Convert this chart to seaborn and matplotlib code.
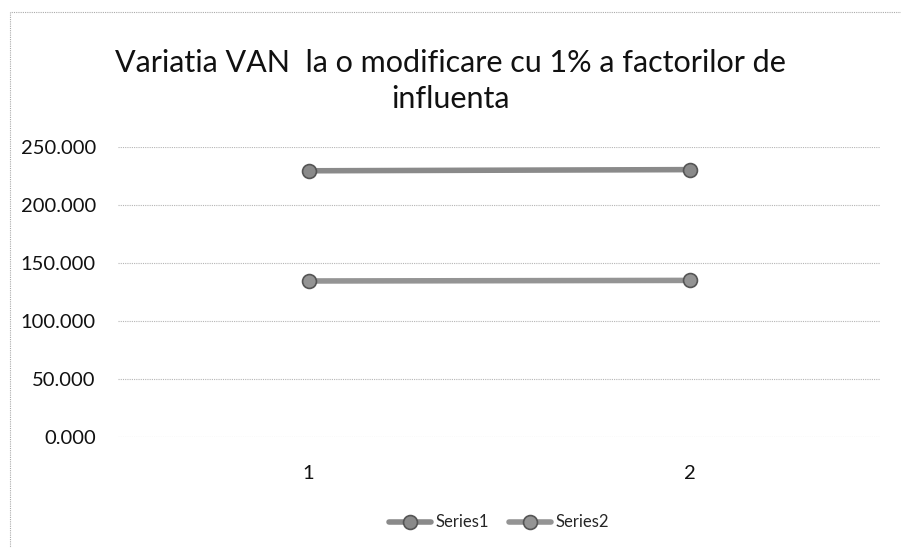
import matplotlib
matplotlib.use("Agg")
import matplotlib.pyplot as plt
from matplotlib.patches import Rectangle
from matplotlib.ticker import FuncFormatter
import seaborn as sns
import pandas as pd

# Values of VAN for each scenario
categories = [1, 2]
series1 = [229.5, 230.5]
series2 = [134.5, 135.0]
series_names = ["Series1", "Series2"]
y_ticks = [0, 50, 100, 150, 200, 250]
title = "Variatia VAN  la o modificare cu 1% a factorilor de\ninfluenta"

df = pd.DataFrame({
    "x": categories * 2,
    "value": series1 + series2,
    "series": [series_names[0]] * len(categories) + [series_names[1]] * len(categories),
})

sns.set_style("white")
plt.rcParams["font.family"] = ["Lato", "DejaVu Sans"]

fig = plt.figure(figsize=(9.01, 5.48), dpi=100)
ax = fig.add_axes([118 / 901, 1 - 437 / 548, (880 - 118) / 901, (437 - 147) / 548])

palette = {series_names[0]: "#8a8a8a", series_names[1]: "#949494"}
sns.lineplot(data=df, x="x", y="value", hue="series", palette=palette, ax=ax,
             linewidth=4, marker="o", markersize=10, markeredgecolor="#555555",
             markeredgewidth=1.2, legend=True)

ax.set_xlim(0.5, 2.5)
ax.set_ylim(0, 250)
ax.set_xticks(categories)
ax.set_xticklabels([str(c) for c in categories])
ax.set_yticks(y_ticks)
ax.yaxis.set_major_formatter(FuncFormatter(lambda v, _: f"{v:.3f}"))
ax.tick_params(axis="both", length=0, labelsize=14.5, colors="#111111")
ax.tick_params(axis="y", pad=16)
ax.tick_params(axis="x", pad=20)
ax.set_xlabel("")
ax.set_ylabel("")
ax.grid(axis="y", color="#b5b5b5", linestyle=(0, (1, 1)), linewidth=0.8)
ax.grid(axis="x", visible=False)
for s in ax.spines.values():
    s.set_visible(False)

leg = ax.legend(loc="upper center", bbox_to_anchor=(0.5, -0.215), ncol=2, frameon=False,
                fontsize=12, handlelength=2.5, columnspacing=1.2, handletextpad=0.3)

fig.text(0.5, 1 - 81 / 548, title, ha="center", va="center", fontsize=22,
         linespacing=1.35, color="#111111")

fig.patches.append(Rectangle((10 / 901, -0.01), 0.99, 1 - 12 / 548 + 0.01,
                             transform=fig.transFigure, fill=False,
                             edgecolor="#aaaaaa", linestyle=(0, (1, 1)), linewidth=0.8))

fig.savefig("out.png", dpi=100)
